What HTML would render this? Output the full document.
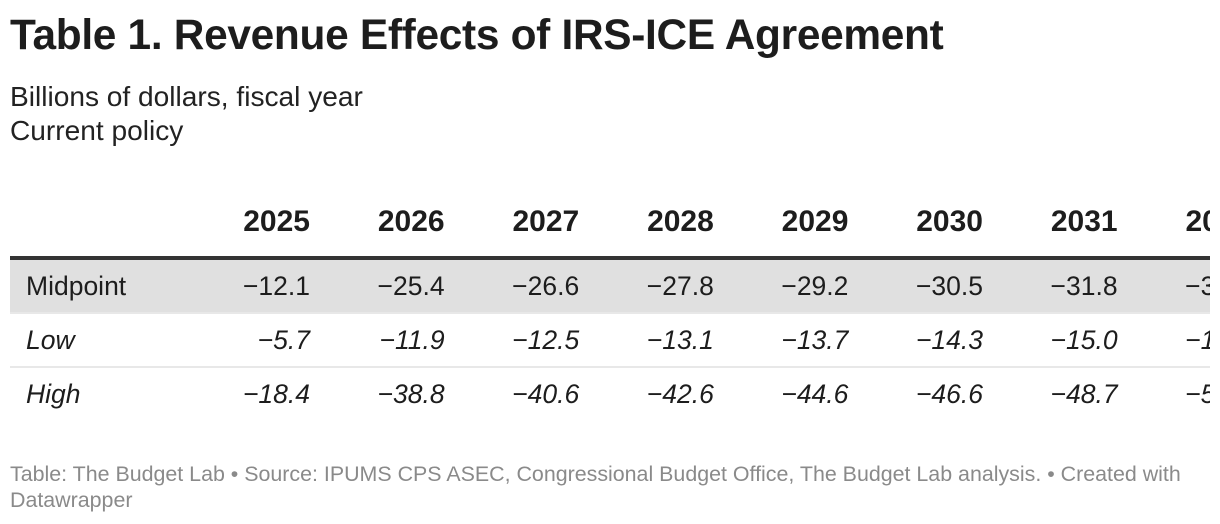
<!DOCTYPE html>
<html><head><meta charset="utf-8">
<style>
html,body{margin:0;padding:0;background:#fff;width:1220px;height:524px;overflow:hidden;font-family:"Liberation Sans",sans-serif;color:#1d1d1d}
.abs{position:absolute;white-space:nowrap}
#title{left:10px;top:11px;font-size:42.4px;font-weight:bold;letter-spacing:-0.3px}
.sub{left:10px;font-size:28.1px;color:#222}
#tbl{position:absolute;left:10px;top:190px;width:1200px;height:230px;overflow:hidden}
.cell{position:absolute;white-space:nowrap;font-size:26.5px;line-height:30px}
.hdr{font-weight:bold;font-size:30px}
#foot{left:10px;top:461px;font-size:21.4px;color:#8a8a8a;line-height:26px;width:1190px;white-space:normal}
</style></head>
<body>
<div id="title" class="abs">Table 1. Revenue Effects of IRS-ICE Agreement</div>
<div class="abs sub" style="top:81px">Billions of dollars, fiscal year</div>
<div class="abs sub" style="top:115px">Current policy</div>
<div id="tbl">
  <div style="position:absolute;left:0;top:66px;width:1200px;height:4px;background:#333"></div>
  <div style="position:absolute;left:0;top:70px;width:1200px;height:52px;background:#e0e0e0"></div>
  <div style="position:absolute;left:0;top:122px;width:1200px;height:2px;background:#e8e8e8"></div>
  <div style="position:absolute;left:0;top:176px;width:1200px;height:2px;background:#e8e8e8"></div>
</div>
<div id="foot" class="abs">Table: The Budget Lab • Source: IPUMS CPS ASEC, Congressional Budget Office, The Budget Lab analysis. • Created with Datawrapper</div>
<script>
const years = ["2025","2026","2027","2028","2029","2030","2031","2032"];
const rowLabels = ["Midpoint","Low","High"];
const midpoint = [-12.1,-25.4,-26.6,-27.8,-29.2,-30.5,-31.8,-33.1];
const low = [-5.7,-11.9,-12.5,-13.1,-13.7,-14.3,-15.0,-15.6];
const high = [-18.4,-38.8,-40.6,-42.6,-44.6,-46.6,-48.7,-50.8];
const series = [midpoint, low, high];
const tbl = document.getElementById('tbl');
const colRight = i => 300 + 134.6*i;
const rowTop = [81, 135, 189];
function fmt(v){return (v<0?'\u2212':'')+Math.abs(v).toFixed(1);}
years.forEach((y,i)=>{
  const d=document.createElement('div');
  d.className='cell hdr';
  d.style.right=(1200-colRight(i))+'px';
  d.style.top='17px';
  d.textContent=y;
  
  
  tbl.appendChild(d);
});
rowLabels.forEach((lab,r)=>{
  const l=document.createElement('div');
  l.className='cell';
  l.style.left='16px';
  l.style.top=rowTop[r]+'px';
  if(r>0) l.style.fontStyle='italic';
  l.textContent=lab;
  
  
  tbl.appendChild(l);
  series[r].forEach((v,i)=>{
    const c=document.createElement('div');
    c.className='cell';
    c.style.right=(1200-colRight(i))+'px';
    c.style.top=rowTop[r]+'px';
    if(r>0) c.style.fontStyle='italic';
    c.textContent=fmt(v);
    
    
    tbl.appendChild(c);
  });
});
</script>
</body></html>
